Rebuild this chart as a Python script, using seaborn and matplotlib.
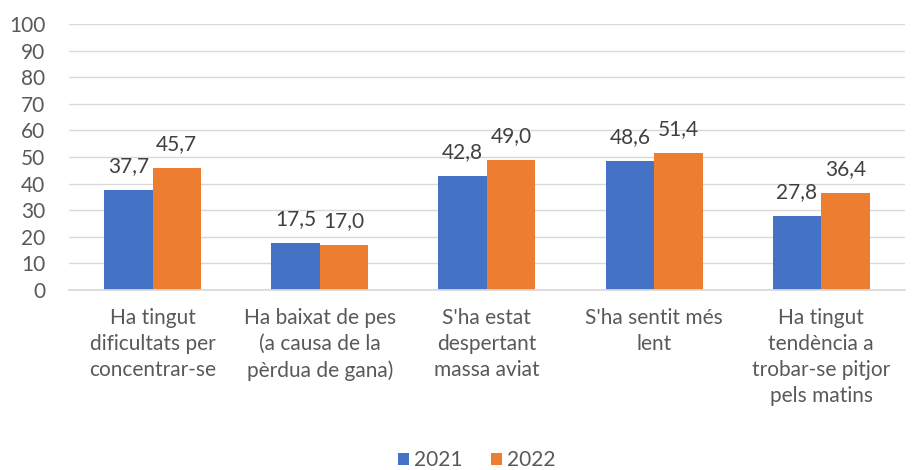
import matplotlib
matplotlib.use("Agg")
import matplotlib.pyplot as plt
import seaborn as sns
import pandas as pd

categories = ["Ha tingut\ndificultats per\nconcentrar-se",
              "Ha baixat de pes\n(a causa de la\npèrdua de gana)",
              "S'ha estat\ndespertant\nmassa aviat",
              "S'ha sentit més\nlent",
              "Ha tingut\ntendència a\ntrobar-se pitjor\npels matins"]
years = ["2021", "2022"]
values_2021 = [37.7, 17.5, 42.8, 48.6, 27.8]
values_2022 = [45.7, 17.0, 49.0, 51.4, 36.4]

df = pd.DataFrame({
    "cat": categories * 2,
    "year": [years[0]] * 5 + [years[1]] * 5,
    "val": values_2021 + values_2022,
})

sns.set_theme(style="white")
plt.rcParams['font.family'] = ['Lato', 'DejaVu Sans']

FS = 15

fig = plt.figure(figsize=(9.13, 4.70), dpi=100)
ax = fig.add_axes([0.0756, 0.383, 0.9154, 0.566])

sns.barplot(data=df, x="cat", y="val", hue="year", ax=ax,
            palette=["#4472C4", "#ED7D31"], width=0.58, saturation=1,
            linewidth=0, errorbar=None)

ax.set_ylim(0, 100)
ax.set_yticks(range(0, 101, 10))
ax.yaxis.grid(True, color="#D9D9D9", linewidth=1)
ax.set_axisbelow(True)
for s in ["top", "right", "left"]:
    ax.spines[s].set_visible(False)
ax.spines["bottom"].set_color("#D9D9D9")
ax.set_xlabel("")
ax.set_ylabel("")
ax.tick_params(axis="both", length=0, labelsize=FS, colors="#595959")
ax.tick_params(axis="x", pad=13)
ax.tick_params(axis="y", pad=17)
for lbl in ax.get_xticklabels():
    lbl.set_linespacing(1.38)

for cont in ax.containers:
    ax.bar_label(cont, labels=[f"{v:.1f}".replace(".", ",") for v in cont.datavalues],
                 padding=10, fontsize=FS, color="#404040")

ax.legend(loc="lower center", bbox_to_anchor=(0.488, -0.725), ncol=2, frameon=False,
          fontsize=FS, handlelength=0.5, handleheight=0.5, handletextpad=0.25,
          columnspacing=1.4, labelcolor="#595959", borderaxespad=0.2)

fig.savefig("out.png", dpi=100)
